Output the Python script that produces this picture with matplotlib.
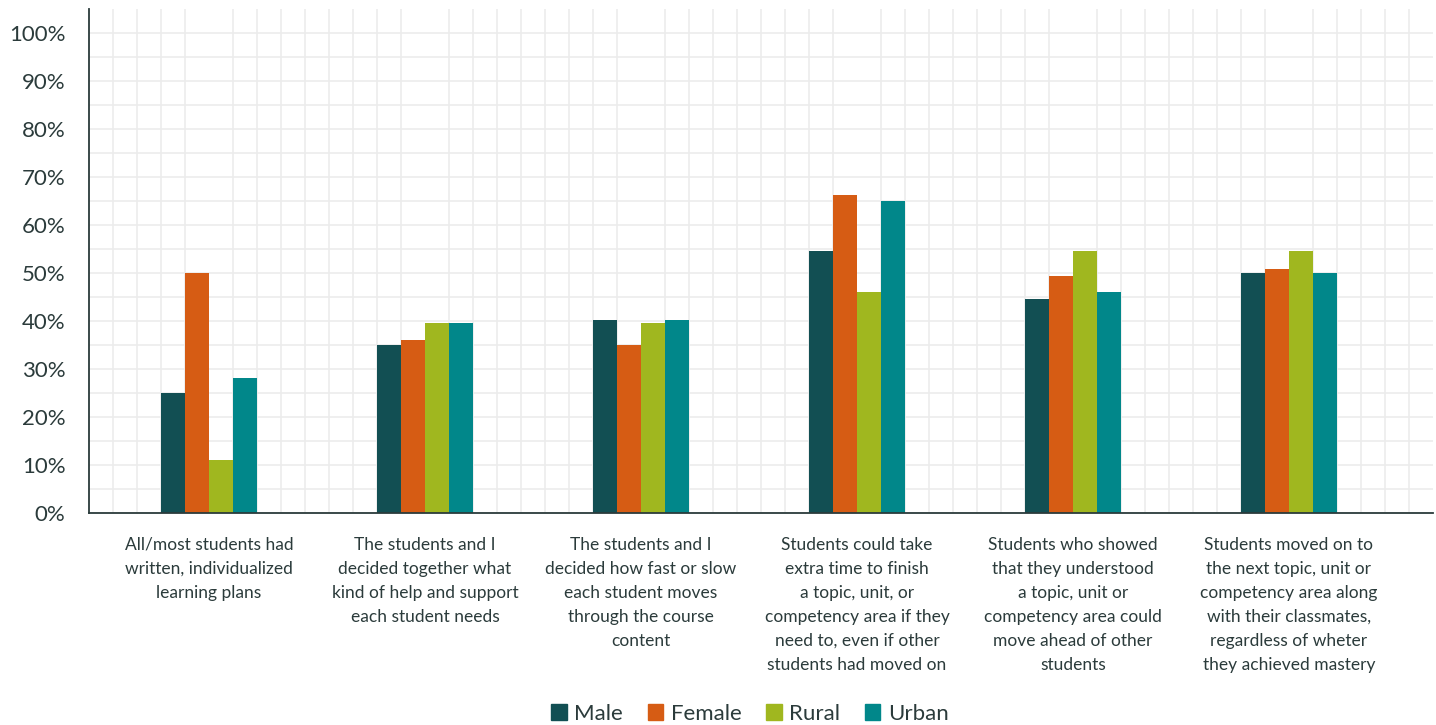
import numpy as np
import matplotlib.pyplot as plt
from matplotlib.patches import Patch

plt.rcParams['font.family'] = ['Lato', 'DejaVu Sans']

# Survey items (x-axis categories)
items = ["All/most students had\nwritten, individualized\nlearning plans",
         "The students and I\ndecided together what\nkind of help and support\neach student needs",
         "The students and I\ndecided how fast or slow\neach student moves\nthrough the course\ncontent",
         "Students could take\nextra time to finish\na topic, unit, or\ncompetency area if they\nneed to, even if other\nstudents had moved on",
         "Students who showed\nthat they understood\na topic, unit or\ncompetency area could\nmove ahead of other\nstudents",
         "Students moved on to\nthe next topic, unit or\ncompetency area along\nwith their classmates,\nregardless of wheter\nthey achieved mastery"]

groups = ["Male", "Female", "Rural", "Urban"]
male = [25.0, 35.1, 40.3, 54.5, 44.5, 50.1]
female = [49.9, 36.1, 35.1, 66.2, 49.3, 50.9]
rural = [11.1, 39.5, 39.5, 46.1, 54.5, 54.5]
urban = [28.2, 39.5, 40.3, 65.1, 46.1, 50.1]
colors = ['#124f53', '#d65c14', '#a0b71f', '#01878a']

txt = '#2b3b3b'

fig = plt.figure(figsize=(14.36, 7.25), dpi=100)
ax = fig.add_axes([89/1436, 1 - 513/725, (1433-89)/1436, (513-9)/725])

centers = 5 + 9*np.arange(len(items))
for i, (vals, c) in enumerate(zip([male, female, rural, urban], colors)):
    ax.bar(centers - 2 + i, vals, width=1.0, align='edge', color=c, zorder=3)

ax.set_xlim(0, 56)
ax.set_ylim(0, 105)
ax.set_xticks(np.arange(1, 56), minor=True)
ax.set_yticks(np.arange(5, 105, 5), minor=True)
ax.set_yticks(np.arange(0, 101, 10))
ax.set_yticklabels([f"{v}%" for v in range(0, 101, 10)], fontsize=16, color=txt)
ax.set_xticks(centers)
ax.set_xticklabels(items, fontsize=12.5, color=txt, linespacing=1.62, va='top')
ax.tick_params(axis='both', which='both', length=0)
ax.tick_params(axis='x', pad=17)
ax.tick_params(axis='y', pad=17)
ax.grid(which='both', color='#ececec', linewidth=1.2, zorder=0)
ax.grid(which='major', axis='x', visible=False)
for s in ['top', 'right']:
    ax.spines[s].set_visible(False)
for s in ['left', 'bottom']:
    ax.spines[s].set_color('#2b3b3b')
    ax.spines[s].set_linewidth(1.3)
ax.spines['bottom'].set_zorder(4)

handles = [Patch(color=c, label=g) for g, c in zip(groups, colors)]
fig.legend(handles=handles, loc='center', bbox_to_anchor=(750/1436, 1 - 714/725),
           ncol=4, frameon=False, fontsize=16, handlelength=0.7, handleheight=0.7,
           handletextpad=0.35, columnspacing=1.1, labelcolor=txt)

fig.savefig('out.png', dpi=100)
